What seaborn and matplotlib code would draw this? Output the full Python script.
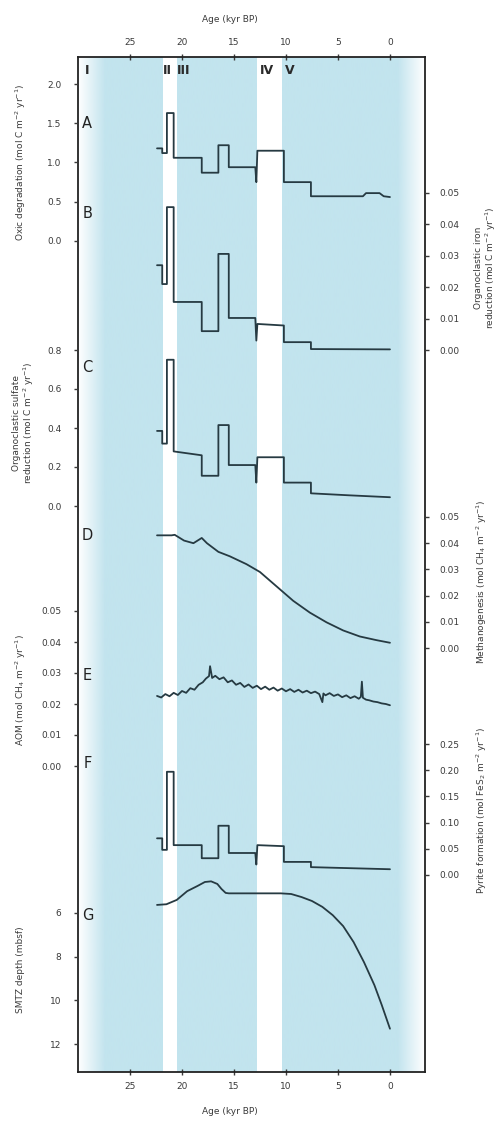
import numpy as np
import matplotlib
matplotlib.use("Agg")
import matplotlib.pyplot as plt
from matplotlib.colors import to_rgb
import seaborn as sns

# ---------------- data ----------------
age_ticks = [25, 20, 15, 10, 5, 0]
age_tick_labels = ["25", "20", "15", "10", "5", "0"]
stage_labels = ["I", "II", "III", "IV", "V"]
stage_ages = [29.1, 21.4, 19.8, 11.8, 9.6]
gap_ages = [(21.8, 20.5), (12.8, 10.4)]
panel_letters = ["A", "B", "C", "D", "E", "F", "G"]

A_age = [22.4, 21.9, 21.9, 21.45, 21.45, 20.8, 20.8, 18.1, 18.1, 16.5, 16.5, 15.5, 15.5,
         12.95, 12.85, 12.75, 10.2, 10.2, 7.6, 7.6, 2.6, 2.3, 1.0, 0.6, 0.0]
A_val = [1.18, 1.18, 1.12, 1.12, 1.63, 1.63, 1.06, 1.06, 0.87, 0.87, 1.22, 1.22, 0.94,
         0.94, 0.75, 1.15, 1.15, 0.75, 0.75, 0.57, 0.57, 0.61, 0.61, 0.57, 0.56]

B_age = [22.4, 21.9, 21.9, 21.45, 21.45, 20.8, 20.8, 18.1, 18.1, 16.5, 16.5, 15.5, 15.5,
         12.95, 12.85, 12.75, 10.2, 10.2, 7.6, 7.6, 0.0]
B_val = [0.027, 0.027, 0.021, 0.021, 0.0455, 0.0455, 0.0153, 0.0153, 0.006, 0.006, 0.0306,
         0.0306, 0.0102, 0.0102, 0.003, 0.0083, 0.0078, 0.0025, 0.0025, 0.0003, 0.0002]

C_age = [22.4, 21.9, 21.9, 21.45, 21.45, 20.8, 20.8, 18.1, 18.1, 16.5, 16.5, 15.5, 15.5,
         12.95, 12.85, 12.75, 10.2, 10.2, 7.6, 7.6, 4.0, 0.0]
C_val = [0.385, 0.385, 0.32, 0.32, 0.75, 0.75, 0.28, 0.26, 0.155, 0.155, 0.415, 0.415, 0.21,
         0.21, 0.12, 0.25, 0.25, 0.12, 0.12, 0.065, 0.055, 0.045]

D_age = [22.4, 21.0, 20.7, 19.8, 18.9, 18.1, 17.6, 16.5, 15.4, 13.8, 12.5, 10.9, 9.3, 7.7,
         6.1, 4.5, 2.9, 1.3, 0.0]
D_val = [0.043, 0.043, 0.0432, 0.041, 0.040, 0.042, 0.040, 0.0367, 0.035, 0.032, 0.029,
         0.0235, 0.018, 0.0135, 0.0098, 0.0067, 0.0044, 0.003, 0.002]

E_age = [22.4, 22.0, 21.6, 21.2, 20.8, 20.4, 20.0, 19.6, 19.2, 18.8, 18.4, 18.0, 17.7, 17.4,
         17.3, 17.1, 16.8, 16.4, 16.0, 15.6, 15.2, 14.8, 14.4, 14.0, 13.6, 13.2, 12.8, 12.4,
         12.0, 11.6, 11.2, 10.8, 10.4, 10.0, 9.6, 9.2, 8.8, 8.4, 8.0, 7.6, 7.2, 6.8, 6.5, 6.4,
         6.2, 5.8, 5.4, 5.0, 4.6, 4.2, 3.8, 3.4, 3.0, 2.8, 2.7, 2.6, 2.3, 2.0, 1.6, 1.2, 0.8,
         0.4, 0.0]
E_val = [0.0226, 0.0221, 0.0232, 0.0225, 0.0236, 0.0229, 0.0242, 0.0236, 0.0251, 0.0246,
         0.0262, 0.0270, 0.0282, 0.0290, 0.0322, 0.0284, 0.0291, 0.0280, 0.0286, 0.0270,
         0.0276, 0.0262, 0.0268, 0.0255, 0.0263, 0.0252, 0.0259, 0.0248, 0.0256, 0.0246,
         0.0253, 0.0243, 0.0250, 0.0241, 0.0248, 0.0239, 0.0246, 0.0237, 0.0243, 0.0235,
         0.0240, 0.0232, 0.0206, 0.0234, 0.0228, 0.0235, 0.0226, 0.0231, 0.0222, 0.0228,
         0.0219, 0.0225, 0.0217, 0.0223, 0.0272, 0.0220, 0.0214, 0.0212, 0.0208, 0.0206,
         0.0202, 0.0200, 0.0196]

F_age = [22.4, 21.9, 21.9, 21.45, 21.45, 20.8, 20.8, 18.1, 18.1, 16.5, 16.5, 15.5, 15.5,
         12.95, 12.85, 12.75, 10.2, 10.2, 7.6, 7.6, 0.0]
F_val = [0.070, 0.070, 0.048, 0.048, 0.197, 0.197, 0.057, 0.057, 0.032, 0.032, 0.094, 0.094,
         0.042, 0.042, 0.020, 0.057, 0.055, 0.025, 0.025, 0.015, 0.011]

G_age = [22.4, 21.5, 20.5, 19.5, 18.5, 17.8, 17.2, 16.6, 16.2, 15.8, 15.5, 14.0, 12.0, 10.5,
         9.5, 8.5, 7.5, 6.5, 5.5, 4.5, 3.5, 2.5, 1.5, 0.8, 0.0]
G_val = [5.63, 5.6, 5.4, 5.0, 4.76, 4.58, 4.55, 4.67, 4.9, 5.08, 5.1, 5.1, 5.1, 5.1, 5.13,
         5.27, 5.45, 5.72, 6.1, 6.6, 7.33, 8.25, 9.3, 10.2, 11.3]

A_ticks = [0.0, 0.5, 1.0, 1.5, 2.0]
B_ticks = [0.00, 0.01, 0.02, 0.03, 0.04, 0.05]
C_ticks = [0.0, 0.2, 0.4, 0.6, 0.8]
D_ticks = [0.00, 0.01, 0.02, 0.03, 0.04, 0.05]
E_ticks = [0.00, 0.01, 0.02, 0.03, 0.04, 0.05]
F_ticks = [0.00, 0.05, 0.10, 0.15, 0.20, 0.25]
G_ticks = [6, 8, 10, 12]

# ---------------- layout ----------------
sns.set_theme(style="white")
plt.rcParams["font.family"] = ["DejaVu Sans"]

W, H = 502, 1122
L, R, T, Bt = 78, 425, 57, 1072
XMIN, XMAX = 30.0, -3.37
BLUE = "#c2e4ee"
LINE = "#263a42"
TXT = "#3a3a3a"

fig = plt.figure(figsize=(W / 100, H / 100), dpi=100)
rect = [L / W, 1 - Bt / H, (R - L) / W, (Bt - T) / H]
main = fig.add_axes(rect)

# background: blue with faded edges and white gaps
xs = np.linspace(XMIN, XMAX, 800)
alpha = np.clip((XMIN - xs) / 2.6, 0, 1) * np.clip((xs - XMAX) / 2.6, 0, 1)
img = np.zeros((1, len(xs), 4))
img[..., :3] = to_rgb(BLUE)
img[..., 3] = alpha
main.imshow(img, extent=[XMIN, XMAX, 0, 1], aspect="auto", interpolation="bilinear", zorder=0)
for a0, a1 in gap_ages:
    main.axvspan(a0, a1, color="white", lw=0, zorder=1)
main.set_xlim(XMIN, XMAX)
main.set_ylim(0, 1)
main.set_yticks([])
main.set_xticks(age_ticks)
main.set_xticklabels(age_tick_labels)
main.tick_params(axis="x", top=True, bottom=True, labeltop=True, labelbottom=True,
                 direction="inout", length=4, width=1, colors=TXT, labelsize=6.5, pad=5)
for sp in main.spines.values():
    sp.set_visible(True)
    sp.set_color("#222222")
    sp.set_linewidth(1.3)


def yfrac(ypix):
    return (Bt - ypix) / (Bt - T)


for lab, a in zip(stage_labels, stage_ages):
    main.text(a, yfrac(70), lab, ha="center", va="center", fontsize=9,
              fontweight="bold", color="#2a2a2a", zorder=5)

letter_y = [123, 213, 367, 535, 675, 763, 915]
for lab, yp in zip(panel_letters, letter_y):
    main.text(29.1, yfrac(yp), lab, ha="center", va="center", fontsize=10.5,
              color="#222222", zorder=5)


def ylim_from(ya, va, yb, vb):
    s = (vb - va) / (yb - ya)
    return va + (Bt - ya) * s, va + (T - ya) * s


panels = [
    (A_age, A_val, "left", (241, 0.0, 84, 2.0), A_ticks, "{:.1f}"),
    (B_age, B_val, "right", (350, 0.0, 193, 0.05), B_ticks, "{:.2f}"),
    (C_age, C_val, "left", (506, 0.0, 350, 0.8), C_ticks, "{:.1f}"),
    (D_age, D_val, "right", (648, 0.0, 517, 0.05), D_ticks, "{:.2f}"),
    (E_age, E_val, "left", (766, 0.0, 611, 0.05), E_ticks, "{:.2f}"),
    (F_age, F_val, "right", (875, 0.0, 744, 0.25), F_ticks, "{:.2f}"),
    (G_age, G_val, "left", (913, 6, 1044, 12), G_ticks, "{:d}"),
]

for ages, vals, side, anchors, ticks, fmt in panels:
    ax = main.twinx()
    sns.lineplot(x=np.array(ages), y=np.array(vals), ax=ax, estimator=None, sort=False,
                 color=LINE, lw=1.3, zorder=4)
    ax.set_xlim(XMIN, XMAX)
    ax.set_ylim(*ylim_from(*anchors))
    ax.set_yticks(ticks)
    ax.set_yticklabels([fmt.format(t) for t in ticks])
    ax.set_ylabel("")
    ax.set_xlabel("")
    for sp in ax.spines.values():
        sp.set_visible(False)
    if side == "left":
        ax.yaxis.tick_left()
        ax.tick_params(axis="y", left=True, right=False, labelleft=True, labelright=False,
                       direction="out", length=3, width=1, colors=TXT, labelsize=6.5, pad=9)
    else:
        ax.yaxis.tick_right()
        ax.tick_params(axis="y", right=True, left=False, labelright=True, labelleft=False,
                       direction="out", length=3, width=1, colors=TXT, labelsize=6.5, pad=7)

main.set_zorder(0)

# axis titles
fs = 6.5
fig.text(230 / W, 1 - 20 / H, "Age (kyr BP)", ha="center", va="center", fontsize=fs, color=TXT)
fig.text(230 / W, 1 - 1111 / H, "Age (kyr BP)", ha="center", va="center", fontsize=fs, color=TXT)

left_labels = [
    (21, 162, "Oxic degradation (mol C m$^{-2}$ yr$^{-1}$)"),
    (24, 423, "Organoclastic sulfate\nreduction (mol C m$^{-2}$ yr$^{-1}$)"),
    (21, 690, "AOM (mol CH$_4$ m$^{-2}$ yr$^{-1}$)"),
    (21, 970, "SMTZ depth (mbsf)"),
]
for xp, yp, s in left_labels:
    fig.text(xp / W, 1 - yp / H, s, rotation=90, ha="center", va="center",
             fontsize=fs, color=TXT, linespacing=1.1)

right_labels = [
    (486, 268, "Organoclastic iron\nreduction (mol C m$^{-2}$ yr$^{-1}$)"),
    (482, 582, "Methanogenesis (mol CH$_4$ m$^{-2}$ yr$^{-1}$)"),
    (482, 810, "Pyrite formation (mol FeS$_2$ m$^{-2}$ yr$^{-1}$)"),
]
for xp, yp, s in right_labels:
    fig.text(xp / W, 1 - yp / H, s, rotation=90, ha="center", va="center",
             fontsize=fs, color=TXT, linespacing=1.1)

fig.savefig("out.png", dpi=100)
